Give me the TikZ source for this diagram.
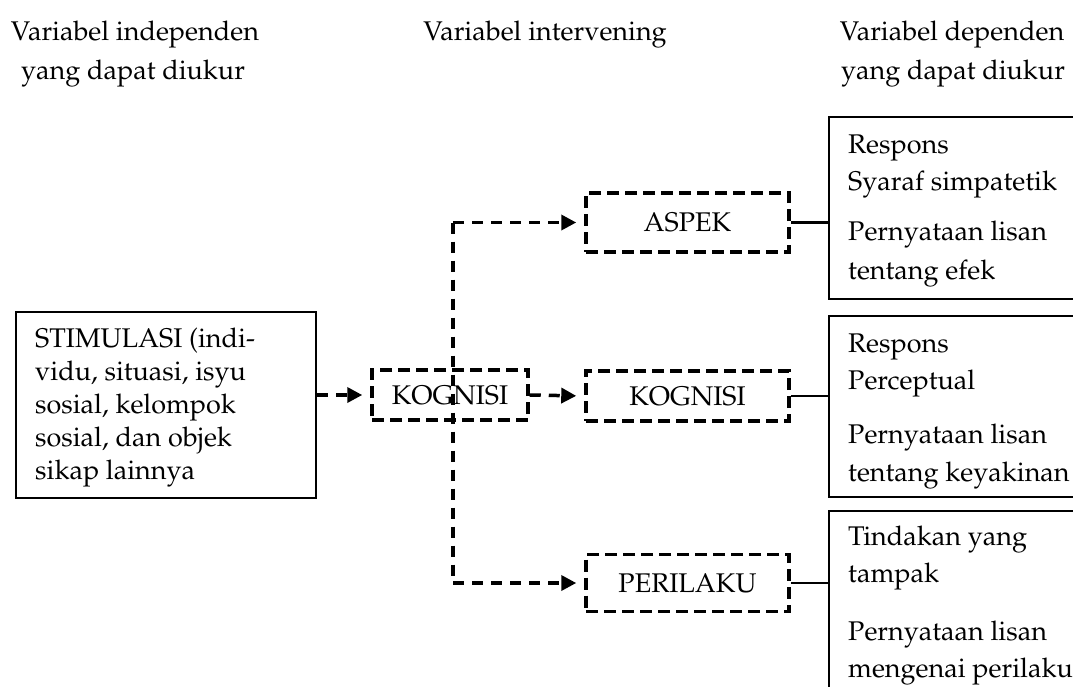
\documentclass[tikz,border=0pt]{standalone}
\usepackage[T1]{fontenc}
\usepackage{mathpazo}
\usetikzlibrary{arrows.meta}
\tikzset{
  txt/.style={font=\fontsize{27}{31}\selectfont, inner sep=0pt},
  lt/.style={txt, anchor=base west},
  ct/.style={txt, anchor=base},
  sbox/.style={draw, line width=2.3pt, inner sep=0pt},
  dbox/.style={draw, line width=3.5pt, dash pattern=on 12pt off 6pt, inner sep=0pt, minimum height=58pt, txt},
  darrow/.style={line width=3.5pt, dash pattern=on 11pt off 8pt, -{Triangle[length=15pt,width=15pt]}, shorten >=8pt},
  dline/.style={line width=3.5pt, dash pattern=on 11pt off 8pt},
  sline/.style={line width=2.3pt}
}
\begin{document}
\begin{tikzpicture}[x=1pt,y=-1pt]
\path[use as bounding box] (0,0) rectangle (1073,686);
\clip (0,0) rectangle (1073,686);

% headers
\node[ct] (h1a) at (135,40) {Variabel independen};
\node[ct] (h1b) at (133,79) {yang dapat diukur};
\node[ct] (h2) at (545,40) {Variabel intervening};
\node[ct] (h3a) at (952,40) {Variabel dependen};
\node[ct] (h3b) at (953,79) {yang dapat diukur};

% stimulasi box
\node[sbox, anchor=north west, minimum width=300pt, minimum height=186pt] (stim) at (15,311) {};
\node[lt] (s1) at (35,347) {STIMULASI (indi-};
\node[lt] (s2) at (35,380.5) {vidu, situasi, isyu};
\node[lt] (s3) at (35,413.5) {sosial, kelompok};
\node[lt] (s4) at (35,446.5) {sosial, dan objek};
\node[lt] (s5) at (35,479) {sikap lainnya};

% intervening boxes
\node[dbox, minimum width=156pt, minimum height=50pt] (kog1) at (450,395) {KOGNISI};
\node[dbox, minimum width=203pt, minimum height=59pt] (aspek) at (687.5,222.5) {ASPEK};
\node[dbox, minimum width=203pt, minimum height=50pt] (kog2) at (687.5,396) {KOGNISI};
\node[dbox, minimum width=203pt, minimum height=57pt] (peri) at (687.5,583) {PERILAKU};

% right boxes
\node[sbox, anchor=north west, minimum width=300pt, minimum height=182pt] (r1) at (828,116) {};
\node[sbox, anchor=north west, minimum width=300pt, minimum height=181pt] (r2) at (828,315) {};
\node[sbox, anchor=north west, minimum width=300pt, minimum height=250pt] (r3) at (828,510) {};

\begin{scope}
\clip (828,116) rectangle (1073,289);
\node[lt] (r1a) at (848,153) {Respons};
\node[lt] (r1b) at (848,190) {Syaraf simpatetik};
\node[lt] (r1c) at (848,240) {Pernyataan lisan};
\node[lt] (r1d) at (848,279) {tentang efek};
\end{scope}
\begin{scope}
\clip (828,315) rectangle (1073,491);
\node[lt] (r2a) at (848,352) {Respons};
\node[lt] (r2b) at (848,389) {Perceptual};
\node[lt] (r2c) at (848,443) {Pernyataan lisan};
\node[lt] (r2d) at (848,481) {tentang keyakinan};
\end{scope}
\node[lt] (r3a) at (848,545) {Tindakan yang};
\node[lt] (r3b) at (848,582) {tampak};
\node[lt] (r3c) at (848,640) {Pernyataan lisan};
\node[lt] (r3d) at (848,677) {mengenai perilaku};

% connectors
\coordinate (vt) at (453,222.5);
\coordinate (vb) at (453,583);
\draw[darrow] (stim.east |- kog1.west) -- (kog1.west);
\draw[darrow] (kog1.east) -- (kog2.west);
\draw[dline] (vt) -- (vb);
\draw[darrow] (vt) -- (aspek.west);
\draw[darrow] (vb) -- (peri.west);
\draw[sline] (aspek.east) -- (aspek.east -| r1.west);
\draw[sline] (kog2.east) -- (kog2.east -| r2.west);
\draw[sline] (peri.east) -- (peri.east -| r3.west);
\end{tikzpicture}
\end{document}
